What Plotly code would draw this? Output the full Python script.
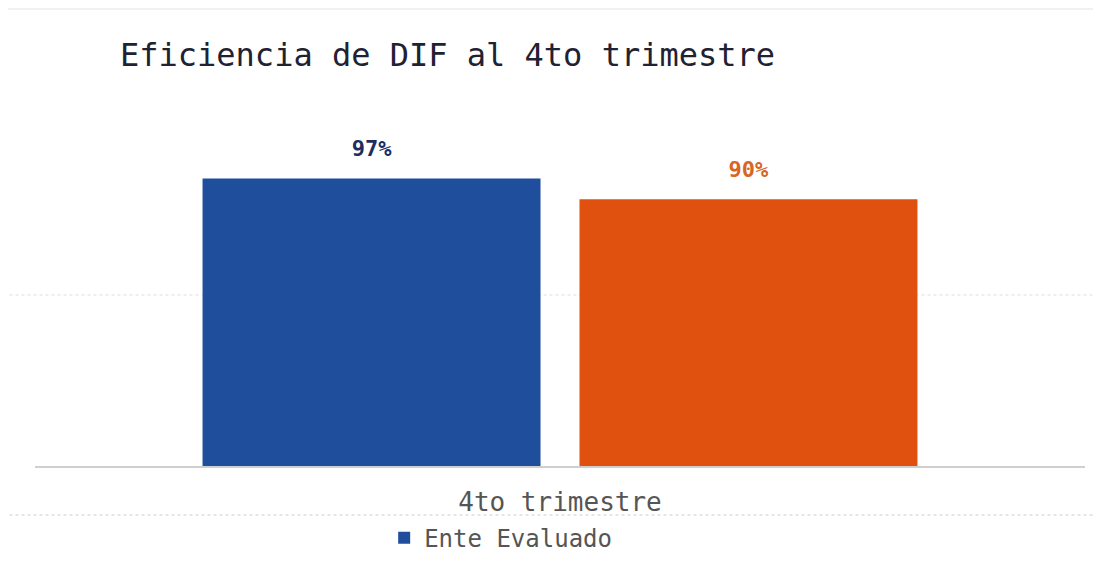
import plotly.graph_objects as go

categories = ["4to trimestre"]
ente_evaluado = [97]
meta = [90]
series_names = ["Ente Evaluado", "Meta"]
bar_colors = ["#1f4e9c", "#e0500f"]
label_colors = ["#1f2d5e", "#d9661f"]
FONT = "DejaVu Sans Mono"

fig = go.Figure()
for i, (name, vals) in enumerate(zip(series_names, [ente_evaluado, meta])):
    fig.add_trace(go.Bar(
        x=categories, y=vals, name=name, showlegend=(i == 0),
        marker=dict(color=bar_colors[i], line=dict(width=0)),
        offsetgroup=str(i), alignmentgroup="a",
    ))
for i, (name, vals) in enumerate(zip(series_names, [ente_evaluado, meta])):
    fig.add_trace(go.Scatter(
        x=categories, y=vals, name=name + " label", showlegend=False,
        mode="markers+text", marker=dict(size=26, opacity=0),
        text=[f"{v}%" for v in vals], textposition="top center",
        textfont=dict(family=FONT, size=22, color=label_colors[i], weight="bold"),
        offsetgroup=str(i), alignmentgroup="a", cliponaxis=False,
        hoverinfo="skip",
    ))

fig.update_layout(
    width=1101, height=564,
    margin=dict(l=27, r=24, t=132, b=106),
    paper_bgcolor="white", plot_bgcolor="white",
    barmode="group", bargap=0.282, bargroupgap=0.1034,
    scattermode="group", scattergap=0.282,
    title=dict(text="Eficiencia de DIF al 4to trimestre",
               font=dict(family=FONT, size=32, color="#1e2233"),
               xref="container", x=112/1101, xanchor="left",
               yref="container", y=1-47/564, yanchor="middle"),
    font=dict(family=FONT, color="#555555"),
    showlegend=True,
    legend=dict(orientation="h", x=0.4435, xanchor="center",
                y=-0.221, yanchor="middle",
                font=dict(family=FONT, size=24, color="#555555"),
                itemwidth=30),
    xaxis=dict(showline=True, linecolor="#cfcfcf", linewidth=1.5,
               tickfont=dict(family=FONT, size=26, color="#555555"),
               ticks="", showgrid=False, ticklabelstandoff=12),
    yaxis=dict(range=[0, 110], visible=False, showgrid=False),
    shapes=[
        dict(type="line", xref="paper", yref="paper", x0=-0.03, x1=1.03,
             y0=(458-1)/326, y1=(458-1)/326, layer="below",
             line=dict(color="#e3e3e3", width=1)),
        dict(type="line", xref="paper", yref="paper", x0=-0.03, x1=1.03,
             y0=(458-287)/326, y1=(458-287)/326, layer="below",
             line=dict(color="#dddddd", width=1, dash="dot")),
        dict(type="line", xref="paper", yref="paper", x0=-0.03, x1=1.03,
             y0=(458-507)/326, y1=(458-507)/326, layer="below",
             line=dict(color="#cccccc", width=1, dash="dot")),
    ],
)

fig.write_html("out.html")
